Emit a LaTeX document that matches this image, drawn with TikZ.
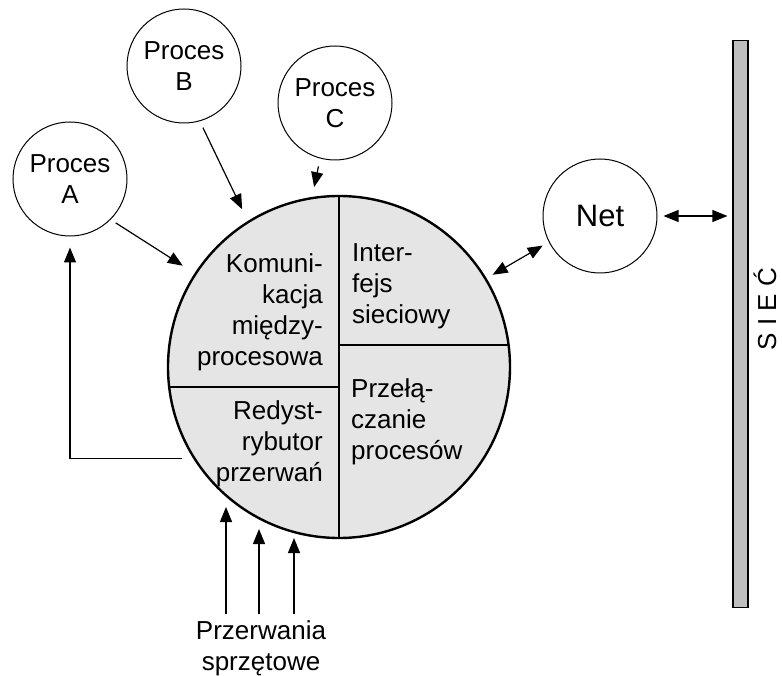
\documentclass[tikz,border=0pt]{standalone}
\usepackage{fontspec}
\setmainfont{Liberation Sans}
\usetikzlibrary{arrows.meta}

\tikzset{
  proc/.style={circle, draw, line width=1pt, minimum size=114pt, inner sep=0pt, align=center},
  arr/.style={-{Triangle[length=15pt,width=12pt]}, line width=1.2pt},
  darr/.style={{Triangle[length=15pt,width=12pt]}-{Triangle[length=15pt,width=12pt]}, line width=1.2pt},
  pole/.style={inner sep=0pt},
}

\begin{document}
\begin{tikzpicture}[x=1pt, y=-1pt, every node/.style={font=\fontsize{26}{31}\selectfont}]
    \useasboundingbox (0,0) rectangle (782,676);

    % jadro systemu
    \node[circle, draw, line width=2.4pt, fill=gray!20, minimum size=342pt, inner sep=0pt] (jadro) at (339,367) {};
    \draw[line width=1.2pt] (jadro.north) -- (jadro.south);
    \draw[line width=1.2pt] (339,387) -- (169.5,387);
    \draw[line width=1.2pt] (339,345) -- (508.5,345);

    % pola w kole
    \node[pole, anchor=north east, align=right] (ipc) at (323,253) {Komuni-\\kacja\\między-\\procesowa};
    \node[pole, anchor=north west, align=left] (inter) at (352,243) {Inter-\\fejs\\sieciowy};
    \node[pole, anchor=north east, align=right] (redyst) at (323,400) {Redyst-\\rybutor\\przerwań};
    \node[pole, anchor=north west, align=left] (przel) at (351,378) {Przełą-\\czanie\\procesów};

    % procesy
    \node[proc] (A) at (70,179) {Proces\\A};
    \node[proc] (B) at (184,66) {Proces\\B};
    \node[proc] (C) at (335,103) {Proces\\C};
    \node[proc, font=\fontsize{31}{36}\selectfont] (net) at (600,216) {Net};

    % siec
    \node[draw, line width=1.2pt, fill=gray!50, minimum width=15pt, minimum height=567pt, inner sep=0pt] (siec) at (740.5,324) {};
    \node[rotate=90] (siecnap) at (765,309) {S I E Ć};

    % strzalki
    \draw[arr, shorten <=6pt, shorten >=14pt] (A.-45) -- (jadro.147.6);
    \draw[arr, shorten <=7pt, shorten >=13pt] (B.-74) -- (jadro.122.6);
    \draw[arr, shorten <=8pt, shorten >=10pt] (C.-105) -- (jadro.99.2);
    \draw[darr, shorten <=7pt, shorten >=7pt] (jadro.31.9) -- (net.207.8);
    \draw[darr, shorten <=6pt, shorten >=5pt] (net.east) -- (net.east -| siec.west);
    \draw[arr, shorten >=11pt] ([xshift=-11pt]jadro.212.7) -| (A.south);

    % przerwania sprzetowe
    \node[align=center] (hw) at (261,648) {Przerwania\\sprzętowe};
    \foreach \x/\y in {226/507, 259/529, 294/538} {
        \draw[arr] (\x,614) -- (\x,\y);
    }
\end{tikzpicture}
\end{document}
